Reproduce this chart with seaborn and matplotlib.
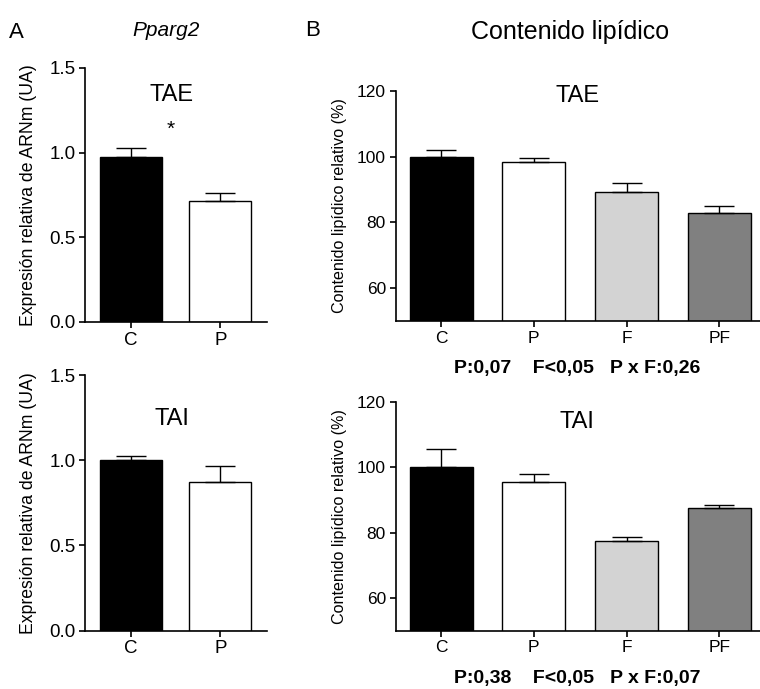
import matplotlib
matplotlib.use("Agg")
import matplotlib.pyplot as plt
import seaborn as sns
import pandas as pd

sns.set_theme(style="ticks")
plt.rcParams['font.family'] = ['Liberation Sans', 'DejaVu Sans']
plt.rcParams['text.color'] = 'black'
plt.rcParams['axes.labelcolor'] = 'black'
plt.rcParams['xtick.color'] = 'black'
plt.rcParams['ytick.color'] = 'black'

# ---- data ----
groups_a = ["C", "P"]
pparg2_tae = [0.975, 0.716]
pparg2_tae_err = [0.05, 0.044]
pparg2_tai = [1.0, 0.874]
pparg2_tai_err = [0.027, 0.09]

groups_b = ["C", "P", "F", "PF"]
lip_tae = [100.0, 98.3, 89.3, 82.9]
lip_tae_err = [2.0, 1.4, 2.6, 2.1]
lip_tai = [100.0, 95.6, 77.3, 87.6]
lip_tai_err = [5.5, 2.2, 1.2, 0.8]

stats_tae = "P:0,07    F<0,05   P x F:0,26"
stats_tai = "P:0,38    F<0,05   P x F:0,07"

colors = {"C": "#000000", "P": "#ffffff", "F": "#d3d3d3", "PF": "#808080"}

W, H = 760, 689
fig = plt.figure(figsize=(W / 100, H / 100), dpi=100)


def frac(x0, y0, x1, y1):
    return [x0 / W, 1 - y1 / H, (x1 - x0) / W, (y1 - y0) / H]


def draw(ax, cats, vals, errs, width, ylim, yticks, ylabel, title, title_x,
         title_y, ylab_size, tick_size, xlim, ytickfmt, labelpad):
    df = pd.DataFrame({"g": cats, "v": vals})
    sns.barplot(data=df, x="g", y="v", hue="g", palette=colors, dodge=False,
                legend=False, width=width, edgecolor="black", linewidth=1.0,
                ax=ax, errorbar=None, order=cats)
    ax.errorbar(range(len(cats)), vals, yerr=[[0] * len(errs), errs],
                fmt="none", ecolor="black", elinewidth=1.0, capsize=11,
                capthick=1.0, zorder=5)
    ax.set_ylim(*ylim)
    ax.set_xlim(*xlim)
    ax.set_yticks(yticks)
    ax.set_yticklabels([ytickfmt(t) for t in yticks], fontsize=tick_size)
    ax.set_xticks(range(len(cats)))
    ax.set_xticklabels(cats, fontsize=tick_size)
    ax.set_xlabel("")
    ax.set_ylabel(ylabel, fontsize=ylab_size, labelpad=labelpad)
    for s in ["top", "right"]:
        ax.spines[s].set_visible(False)
    for s in ["left", "bottom"]:
        ax.spines[s].set_linewidth(1.2)
        ax.spines[s].set_color("black")
    ax.tick_params(axis="both", direction="out", length=4, width=1.2,
                   colors="black", pad=3)
    ax.text(title_x, title_y, title, ha="center", va="center", fontsize=17)


ax1 = fig.add_axes(frac(85, 68, 267, 322))
draw(ax1, groups_a, pparg2_tae, pparg2_tae_err, 0.69, (0, 1.5),
     [0, 0.5, 1.0, 1.5], "Expresión relativa de ARNm (UA)", "TAE", 0.46, 1.34,
     12.7, 13.5, (-0.51, 1.52), lambda t: f"{t:.1f}", 9)
ax1.text(0.45, 1.14, "*", ha="center", va="center", fontsize=15)

ax2 = fig.add_axes(frac(85, 375, 267, 630.7))
draw(ax2, groups_a, pparg2_tai, pparg2_tai_err, 0.69, (0, 1.5),
     [0, 0.5, 1.0, 1.5], "Expresión relativa de ARNm (UA)", "TAI", 0.46, 1.24,
     12.7, 13.5, (-0.51, 1.52), lambda t: f"{t:.1f}", 9)

ax3 = fig.add_axes(frac(395.7, 91, 760, 321))
draw(ax3, groups_b, lip_tae, lip_tae_err, 0.68, (50, 120),
     [60, 80, 100, 120], "Contenido lipídico relativo (%)", "TAE", 1.47, 118.6,
     11.6, 12.5, (-0.49, 3.44), lambda t: f"{t:d}", 7)

ax4 = fig.add_axes(frac(395.7, 401.7, 760, 630.7))
draw(ax4, groups_b, lip_tai, lip_tai_err, 0.68, (50, 120),
     [60, 80, 100, 120], "Contenido lipídico relativo (%)", "TAI", 1.47, 113.9,
     11.6, 12.5, (-0.49, 3.44), lambda t: f"{t:d}", 7)

fig.text(16 / W, 1 - 32 / H, "A", fontsize=16, ha="center", va="center")
fig.text(166 / W, 1 - 30 / H, "Pparg2", fontsize=15, style="italic",
         ha="center", va="center")
fig.text(313 / W, 1 - 31 / H, "B", fontsize=16, ha="center", va="center")
fig.text(570 / W, 1 - 32 / H, "Contenido lipídico", fontsize=18,
         ha="center", va="center")
fig.text(577 / W, 1 - 368 / H, stats_tae, fontsize=14, fontweight="bold",
         ha="center", va="center")
fig.text(577 / W, 1 - 678 / H, stats_tai, fontsize=14, fontweight="bold",
         ha="center", va="center")

fig.savefig("out.png", dpi=100, facecolor="white")
